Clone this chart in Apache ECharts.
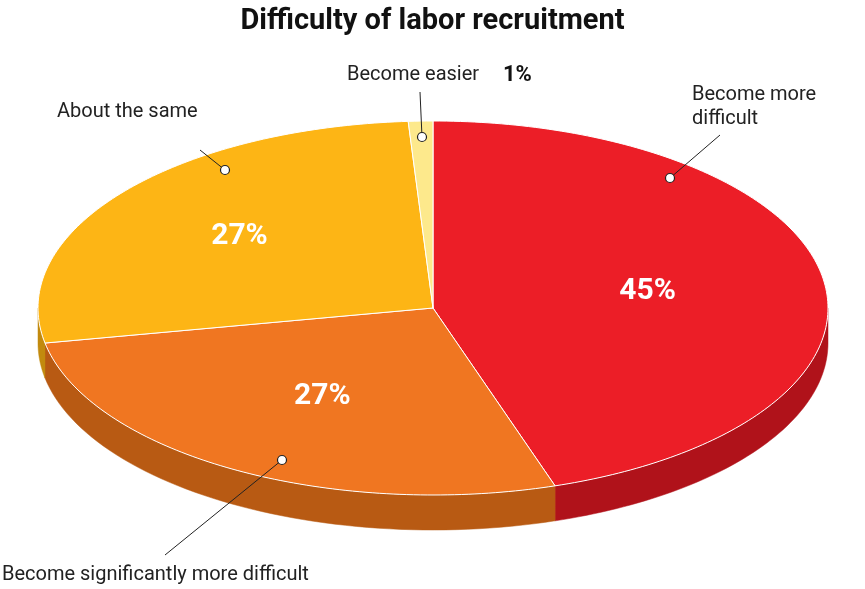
<!DOCTYPE html>
<html><head><meta charset="utf-8">
<script src="https://cdn.jsdelivr.net/npm/echarts@6/dist/echarts.min.js"></script>
<style>html,body{margin:0;padding:0;background:#fff}#c{width:865px;height:589px}</style>
</head><body><div id="c"></div>
<script>
const categories = ['Become more difficult','Become significantly more difficult','About the same','Become easier'];
const values = [45, 27, 27, 1];
const pctLabels = ['45%','27%','27%','1%'];
const outerLabels = ['Become more\ndifficult','Become significantly more difficult','About the same','Become easier'];

const topColors = ['#EC1E27','#F07621','#FDB515','#FDE98C'];
const sideColors = ['#B0121A','#B85A13','#C28A0E','#C9B860'];
const CX = 433, CY = 308, RX = 395, RY = 187, DEPTH = 35;
// label layout: [dotX, dotY, lineEndX, lineEndY, textX, textY, align]
const layout = [
  [670,178, 720,135, 692,107,'left'],
  [282,460, 165,555, 2,575,'left'],
  [225,170, 200,150, 57,112,'left'],
  [422,137, 420,92, 347,75,'left']
];
const pctRadius = [0.55, 0.55, 0.62, 0];

const total = values.reduce((a,b)=>a+b,0);
const slices = [];
let cum = 0;
values.forEach((v,i)=>{ const a0 = 90 - cum/total*360; cum += v; const a1 = 90 - cum/total*360; slices.push([i, a0, a1]); });
const P = (a, dy=0) => { const r = a*Math.PI/180; return [CX + RX*Math.cos(r), CY - RY*Math.sin(r) + dy]; };

function sideItem(params, api){
  const i = api.value(0), a0 = api.value(1), a1 = api.value(2);
  const children = [];
  // visible front range: angles where sin<0 : normalize into (-360, 0) windows
  for (const off of [0, -360, 360]) {
    const s = Math.min(a0 + off, 0), e = Math.max(a1 + off, -180);
    if (s > e) {
      const pts = [];
      const n = 60;
      for (let k=0;k<=n;k++) pts.push(P(s + (e-s)*k/n));
      for (let k=n;k>=0;k--) pts.push(P(s + (e-s)*k/n, DEPTH));
      children.push({type:'polygon', shape:{points:pts}, style:{fill:sideColors[i], stroke:sideColors[i], lineWidth:0.5}});
    }
  }
  return {type:'group', children};
}
function topItem(params, api){
  const i = api.value(0), a0 = api.value(1), a1 = api.value(2);
  const pts = [[CX,CY]];
  const n = Math.max(4, Math.ceil(Math.abs(a0-a1)));
  for (let k=0;k<=n;k++) pts.push(P(a0 + (a1-a0)*k/n));
  const children = [{type:'polygon', shape:{points:pts}, style:{fill:topColors[i], stroke:'#ffffff', lineWidth:1}}];
  const mid = (a0+a1)/2, r = mid*Math.PI/180;
  if (pctRadius[i] > 0) {
    children.push({type:'text', z2:10, style:{text:pctLabels[i], x:CX + RX*pctRadius[i]*Math.cos(r), y:CY - RY*pctRadius[i]*Math.sin(r),
      fill:'#fff', font:'bold 30px Roboto', align:'center', verticalAlign:'middle', shadowBlur:12, shadowColor:'rgba(0,0,0,0.45)'}});
  }
  const L = layout[i];
  children.push({type:'line', z2:11, shape:{x1:L[0],y1:L[1],x2:L[2],y2:L[3]}, style:{stroke:'#222', lineWidth:1}});
  children.push({type:'circle', z2:12, shape:{cx:L[0],cy:L[1],r:4.5}, style:{fill:'#fff', stroke:'#222', lineWidth:1.2}});
  children.push({type:'text', z2:12, style:{text:outerLabels[i], x:L[4], y:L[5], fill:'#222', font:'20px Roboto', align:L[6], verticalAlign:'middle', lineHeight:24}});
  if (i === 3) children.push({type:'text', z2:12, style:{text:pctLabels[i], x:503, y:L[5], fill:'#111', font:'bold 22px Roboto', align:'left', verticalAlign:'middle'}});
  return {type:'group', children};
}
const chart = echarts.init(document.getElementById('c'));
chart.setOption({
  animation:false,
  title:{text:'Difficulty of labor recruitment', left:'center', top:2, textStyle:{fontFamily:'Roboto', fontWeight:'bold', fontSize:29, color:'#111'}},
  series:[
    {type:'custom', coordinateSystem:'none', renderItem:sideItem, data:slices, z:1},
    {type:'custom', coordinateSystem:'none', renderItem:topItem, data:slices, z:2}
  ]
});
</script></body></html>
